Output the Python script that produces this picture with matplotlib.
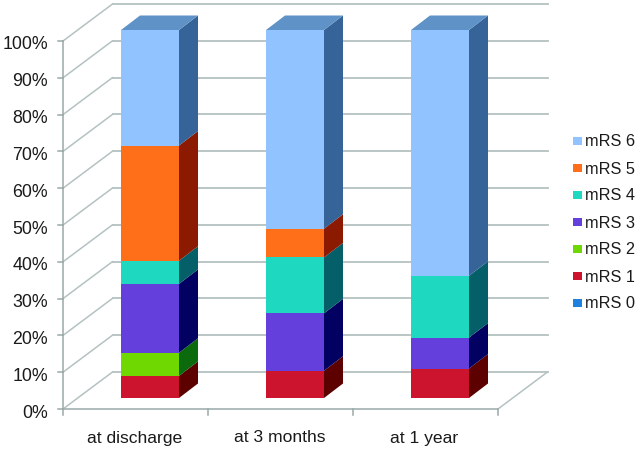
#!/usr/bin/env python3
"""Stacked pseudo-3D bars of mRS shares at three follow-up times."""

import matplotlib
matplotlib.use("Agg")
import matplotlib.pyplot as plt
from matplotlib.patches import Rectangle

plt.rcParams["font.family"] = ["Liberation Sans", "DejaVu Sans"]

# ---------------------------------------------------------------------------
# Data (percent per stack segment, mRS 0 upward)
# ---------------------------------------------------------------------------
categories = ["at discharge", "at 3 months", "at 1 year"]
series_names = ["mRS 0", "mRS 1", "mRS 2", "mRS 3", "mRS 4", "mRS 5", "mRS 6"]
mrs0 = [0.0, 0.0, 0.0]
mrs1 = [6.0, 7.4, 8.0]
mrs2 = [6.3, 0.0, 0.0]
mrs3 = [18.7, 15.6, 8.4]
mrs4 = [6.3, 15.2, 16.8]
mrs5 = [31.3, 7.8, 0.0]
mrs6 = [31.4, 54.0, 66.8]
series_values = [mrs0, mrs1, mrs2, mrs3, mrs4, mrs5, mrs6]
y_ticks = list(range(0, 101, 10))

# ---------------------------------------------------------------------------
# Style
# ---------------------------------------------------------------------------
FRONT = ["#2080E0", "#CC142E", "#6FD800", "#653FDC", "#1FD8C0", "#FF6F1A", "#90C3FF"]
SIDE = ["#104E90", "#5C0000", "#0B6A0B", "#020060", "#045F68", "#8B1A00", "#366499"]
TOP_CLR = "#5F93C8"
GRID_CLR = "#B4C2C2"
AXIS_CLR = "#9AA8A8"
TEXT_CLR = "#1A1A1A"

# Pixel layout of the picture, everything below goes through data units
W, H = 640, 450
PX_Y = 3.68          # pixels per percent
PX_X = 145.0         # pixels per category
X0_PX = 135.5        # pixel of category 0 centre on the front floor edge
Y0_PX = 409.0        # pixel of 0% on the front floor edge

fig = plt.figure(figsize=(W / 100, H / 100), dpi=100, facecolor="white")
ax = fig.add_axes([0, 0, 1, 1])
ax.set_xlim(-X0_PX / PX_X, (W - X0_PX) / PX_X)
ax.set_ylim((Y0_PX - H) / PX_Y, Y0_PX / PX_Y)
ax.axis("off")


def dx(px):
    return px / PX_X


def dy(px):
    return px / PX_Y


x_left = -0.5
x_right = len(categories) - 0.5
wall_dx, wall_dy = dx(49.5), dy(37)

# ---------------------------------------------------------------------------
# Walls and grid
# ---------------------------------------------------------------------------
for t in y_ticks:
    ax.plot([x_left, x_left + wall_dx], [t, t + wall_dy], color=GRID_CLR, lw=1.1, zorder=1)
    ax.plot([x_left + wall_dx, x_right + wall_dx], [t + wall_dy, t + wall_dy],
            color=GRID_CLR, lw=1.3, zorder=1)
    ax.plot([x_left - dx(5), x_left], [t, t], color=AXIS_CLR, lw=1.1, zorder=1)
    ax.text(x_left - dx(15), t - dy(4), f"{t}%", ha="right", va="center",
            fontsize=12.8, color=TEXT_CLR)

ax.plot([x_left, x_left], [0, 100], color=AXIS_CLR, lw=1.1, zorder=1)
ax.plot([x_left, x_right], [0, 0], color=AXIS_CLR, lw=1.1, zorder=1)
ax.plot([x_right, x_right + wall_dx], [0, wall_dy], color=GRID_CLR, lw=1.1, zorder=1)
for i in range(len(categories) + 1):
    ax.plot([i - 0.5, i - 0.5], [0, -dy(6)], color=AXIS_CLR, lw=1.1, zorder=1)

# ---------------------------------------------------------------------------
# Bars: front face plus a sheared side and top
# ---------------------------------------------------------------------------
bar_w = dx(58)
bar_dx, bar_dy = dx(14.5), dy(11)     # bar sits this far back on the floor
side_dx, side_dy = dx(19), dy(14.5)

for i, cat in enumerate(categories):
    x_l = i + bar_dx - bar_w / 2
    x_r = x_l + bar_w
    bottom = bar_dy
    for k, vals in enumerate(series_values):
        v = vals[i]
        if v == 0:
            continue
        top = bottom + v
        ax.bar(x_l, v, width=bar_w, bottom=bottom, align="edge",
               color=FRONT[k], edgecolor="none", zorder=3)
        ax.fill([x_r, x_r + side_dx, x_r + side_dx, x_r],
                [bottom, bottom + side_dy, top + side_dy, top],
                color=SIDE[k], lw=0, zorder=3)
        bottom = top
    ax.fill([x_l, x_r, x_r + side_dx, x_l + side_dx],
            [bottom, bottom, bottom + side_dy, bottom + side_dy],
            color=TOP_CLR, lw=0, zorder=3)
    ax.text(i - dx(1), -dy(29), cat, ha="center", va="center",
            fontsize=12.6, color=TEXT_CLR)

# ---------------------------------------------------------------------------
# Legend, newest class on top
# ---------------------------------------------------------------------------
legend_x = (573 - X0_PX) / PX_X
legend_y0 = (Y0_PX - 303) / PX_Y
for k, name in enumerate(series_names):
    y = legend_y0 + k * dy(27)
    ax.add_patch(Rectangle((legend_x, y - dy(4)), dx(8.5), dy(8.5),
                           facecolor=FRONT[k], edgecolor="none", zorder=3))
    ax.text(legend_x + dx(12), y - dy(1), name, ha="left", va="center",
            fontsize=11.8, color=TEXT_CLR)

fig.savefig("out.png", dpi=100, facecolor="white")
plt.close(fig)
